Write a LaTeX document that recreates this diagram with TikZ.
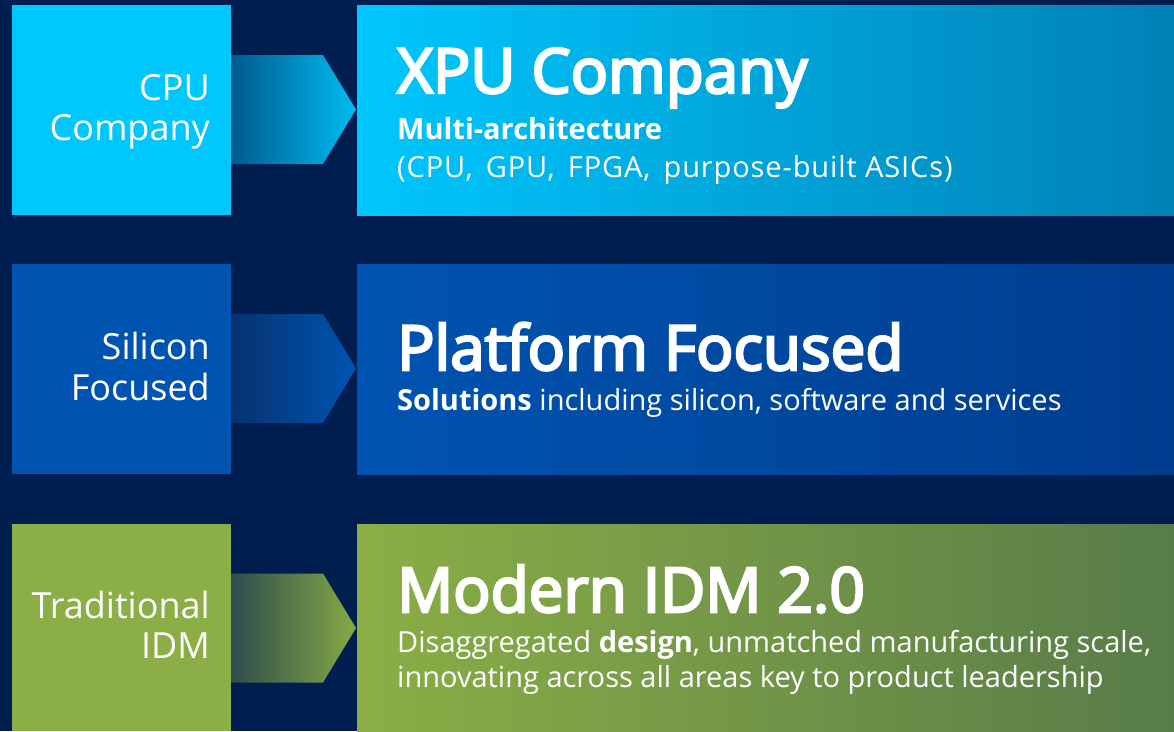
\documentclass[tikz,border=0pt]{standalone}
\usepackage{fontspec}
\setmainfont{Open Sans}
\newfontface\headfont{Open Sans}[FakeBold=4]
\usepackage{xcolor}
\usepackage{tikz}

\definecolor{navy}{HTML}{001E50}
\definecolor{cyanA}{HTML}{00C7FD}
\definecolor{cyanB}{HTML}{0081B6}
\definecolor{cyanArr}{HTML}{005A8C}
\definecolor{blueA}{HTML}{0054B1}
\definecolor{blueB}{HTML}{003D8F}
\definecolor{blueArr}{HTML}{06336F}
\definecolor{greenA}{HTML}{8BAE46}
\definecolor{greenB}{HTML}{587C48}
\definecolor{greenArr}{HTML}{2E4C4C}

\begin{document}
\begin{tikzpicture}[x=1pt, y=-1pt,
        side/.style={inner sep=0pt, outer sep=0pt, minimum width=219pt,
            minimum height=210pt},
        wide/.style={inner sep=0pt, outer sep=0pt, minimum width=817pt,
            minimum height=210pt},
        label/.style={text=white, anchor=base east, inner sep=0pt,
            font=\fontsize{36}{40}\selectfont},
        head/.style={text=white, anchor=base west, inner sep=0pt,
            font=\headfont\fontsize{62}{70}\selectfont},
        sub/.style={text=white, anchor=base west, inner sep=0pt,
            font=\fontsize{29}{35}\selectfont}]
        \fill[navy] (0,0) rectangle (1174,731);
        \useasboundingbox (0,0) rectangle (1174,731);

        % row 1
        \node[side, fill=cyanA] (cpu) at (121.5,110) {};
        \node[wide, left color=cyanA, right color=cyanB] (xpu) at (765.5,110) {};
        \shade[left color=cyanArr, right color=cyanA!90!cyanArr] (cpu.east) ++(0,-55)
            -- ++(92,0) -- ++(33,54.5) -- ++(-33,54.5) -- ++(-92,0) -- cycle;
        \node[label] (cpu1) at (210,100) {CPU};
        \node[label] (cpu2) at (210,140) {Company};
        \node[head] (xpuH) at (397,93) {XPU Company};
        \node[sub] (xpu1) at (397,139) {\textbf{Multi-architecture}};
        \node[sub] (xpu2) at (397,177) {\addfontfeatures{LetterSpace=3}(CPU,\, GPU,\, FPGA,\, purpose-built ASICs)};

        % row 2
        \node[side, fill=blueA] (sil) at (121.5,369) {};
        \node[wide, left color=blueA, right color=blueB] (plat) at (765.5,369) {};
        \shade[left color=blueArr, right color=blueA] (sil.east) ++(0,-55)
            -- ++(92,0) -- ++(33,54.5) -- ++(-33,54.5) -- ++(-92,0) -- cycle;
        \node[label] (sil1) at (210,359) {Silicon};
        \node[label] (sil2) at (210,400) {Focused};
        \node[head] (platH) at (397,370) {Platform Focused};
        \node[sub] (plat1) at (397,410) {\textbf{Solutions} including silicon, software and services};

        % row 3
        \node[side, fill=greenA, minimum height=207pt] (idm) at (121.5,627.5) {};
        \node[wide, left color=greenA, right color=greenB, minimum height=207pt]
            (modern) at (765.5,627.5) {};
        \shade[left color=greenArr, right color=greenA!95!greenArr] (idm.east) ++(0,-54)
            -- ++(92,0) -- ++(33,54.5) -- ++(-33,54.5) -- ++(-92,0) -- cycle;
        \node[label] (idm1) at (210,618) {Traditional};
        \node[label] (idm2) at (210,658) {IDM};
        \node[head] (modH) at (397,612) {Modern IDM 2.0};
        \node[sub] (mod1) at (397,652) {Disaggregated \textbf{design}, unmatched manufacturing scale,};
        \node[sub] (mod2) at (397,687) {innovating across all areas key to product leadership};
    \end{tikzpicture}
\end{document}
